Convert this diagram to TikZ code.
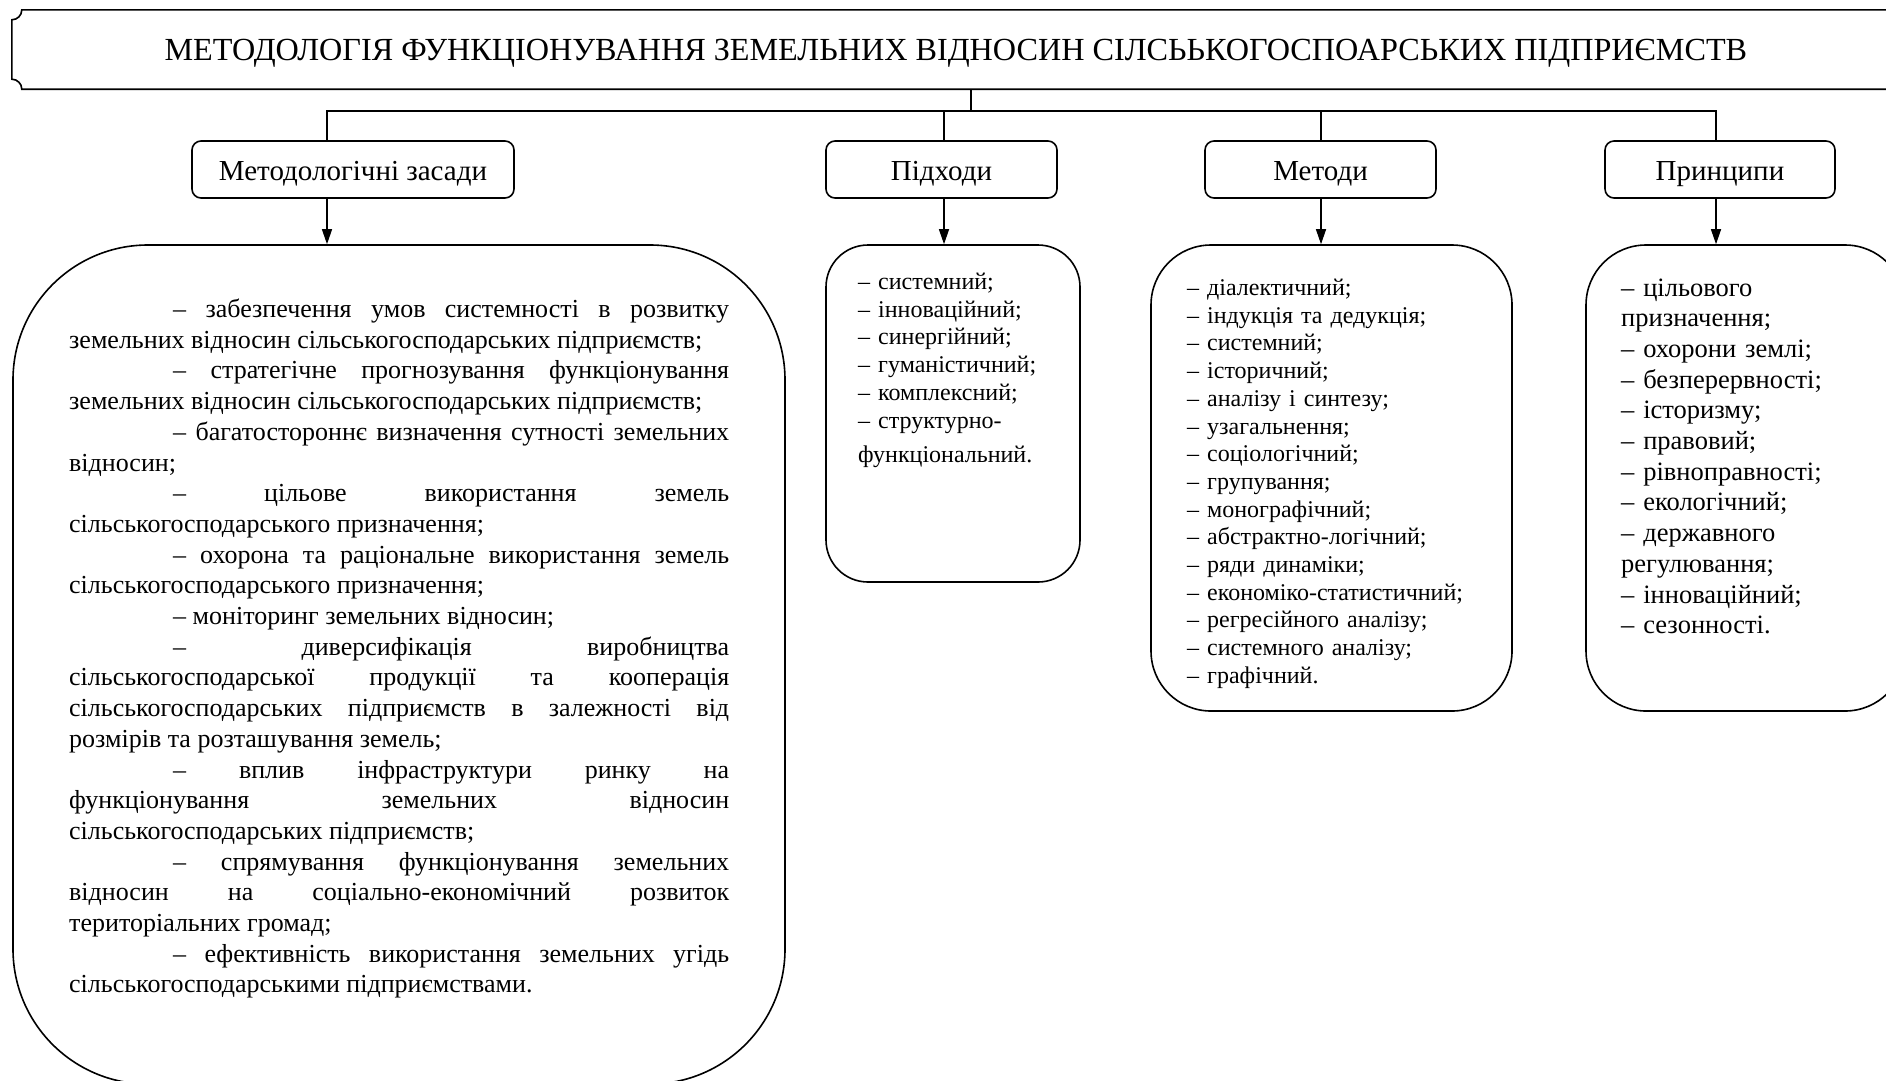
\documentclass[tikz,border=0pt]{standalone}
\usepackage{fontspec}
\setmainfont{Liberation Serif}
\usetikzlibrary{arrows.meta, positioning}

\begin{document}
\begin{tikzpicture}[x=1pt,y=1pt,
    >={Triangle[length=15pt,width=10pt]},
    head/.style={draw, line width=1.6pt, rounded corners=9pt, minimum height=57pt,
      inner sep=0pt, text height=21pt, text depth=0pt, font=\fontsize{29}{33}\selectfont},
    listbox/.style={draw, line width=1.6pt, inner sep=0pt},
    listtext/.style={anchor=base west, inner sep=0pt, text width=320pt, align=left,
      font=\fontsize{24}{27.7}\selectfont},
    link/.style={line width=1.3pt}]
  \useasboundingbox (0,0) rectangle (1886,-1080);

  % title
  \node[minimum width=1888pt, minimum height=79pt, inner sep=0pt, text depth=0pt,
    font=\fontsize{32.2}{36}\selectfont] (title) at (956,-49.5)
    {МЕТОДОЛОГІЯ ФУНКЦІОНУВАННЯ ЗЕМЕЛЬНИХ ВІДНОСИН СІЛСЬЬКОГОСПОАРСЬКИХ ПІДПРИЄМСТВ};
  \draw[line width=1.6pt] (title.north east) -- ([xshift=10pt]title.north west)
    arc[start angle=0, end angle=-90, radius=10pt]
    -- ([yshift=10pt]title.south west)
    arc[start angle=90, end angle=0, radius=10pt] -- (title.south east);

  % categories
  \node[head, minimum width=322pt] (zas) at (353,-169.5) {Методологічні засади};
  \node[head, minimum width=231pt] (pid) at (941.5,-169.5) {Підходи};
  \node[head, minimum width=231pt] (met) at (1320.5,-169.5) {Методи};
  \node[head, minimum width=230pt] (pry) at (1720,-169.5) {Принципи};

  % lists
  \node[listbox, rounded corners=135pt, minimum width=772pt, minimum height=839pt] (zasl) at (399,-664.5) {};
  \node[listbox, rounded corners=42pt, minimum width=254pt, minimum height=337pt] (pidl) at (953,-413.5) {};
  \node[listbox, rounded corners=60pt, minimum width=361pt, minimum height=466pt] (metl) at (1331.5,-478) {};
  \node[listbox, rounded corners=60pt, minimum width=319pt, minimum height=466pt] (pryl) at (1745.5,-478) {};

  % connectors
  \coordinate (stem) at (971,-111);
  \coordinate (b1) at (327,-111);
  \coordinate (b2) at (944,-111);
  \coordinate (b3) at (1321,-111);
  \coordinate (b4) at (1716,-111);
  \draw[link] (title.south -| stem) -- (stem);
  \draw[link] (b1 |- zas.north) -- (b1) -- (b4) -- (b4 |- pry.north);
  \draw[link] (b2) -- (b2 |- pid.north);
  \draw[link] (b3) -- (b3 |- met.north);
  \path[->, link]
    (zas.south -| b1) edge (b1 |- zasl.north)
    (pid.south -| b2) edge (b2 |- pidl.north)
    (met.south -| b3) edge (b3 |- metl.north)
    (pry.south -| b4) edge (b4 |- pryl.north);

  % texts
  \node[listtext, text width=660pt, align=justify, font=\fontsize{26}{30.7}\selectfont] (zast) at (69,-317.5)
    {\tolerance=10000 \hyphenpenalty=10000
    \hspace*{104pt}– забезпечення умов системності в розвитку\linebreak
    земельних відносин сільськогосподарських підприємств;\par
    \hspace*{104pt}– стратегічне прогнозування функціонування\linebreak
    земельних відносин сільськогосподарських підприємств;\par
    \hspace*{104pt}– багатостороннє визначення сутності земельних\linebreak
    відносин;\par
    \hspace*{104pt}– цільове використання земель\linebreak
    сільськогосподарського призначення;\par
    \hspace*{104pt}– охорона та раціональне використання земель\linebreak
    сільськогосподарського призначення;\par
    \hspace*{104pt}– моніторинг земельних відносин;\par
    \hspace*{104pt}– диверсифікація виробництва\linebreak
    сільськогосподарської продукції та кооперація\linebreak
    сільськогосподарських підприємств в залежності від\linebreak
    розмірів та розташування земель;\par
    \hspace*{104pt}– вплив інфраструктури ринку на\linebreak
    функціонування земельних відносин\linebreak
    сільськогосподарських підприємств;\par
    \hspace*{104pt}– спрямування функціонування земельних\linebreak
    відносин на соціально-економічний розвиток\linebreak
    територіальних громад;\par
    \hspace*{104pt}– ефективність використання земельних угідь\linebreak
    сільськогосподарськими підприємствами.\par};
  \node[listtext, text width=210pt] (pidt) at (858,-289.5)
    {– системний;\\ – інноваційний;\\ – синергійний;\\ – гуманістичний;\\
     – комплексний;\\ – структурно-\\[7pt] функціональний.};
  \node[listtext] (mett) at (1187,-295.5)
    {– діалектичний;\\ – індукція та дедукція;\\ – системний;\\ – історичний;\\
     – аналізу і синтезу;\\ – узагальнення;\\ – соціологічний;\\ – групування;\\
     – монографічний;\\ – абстрактно-логічний;\\ – ряди динаміки;\\
     – економіко-статистичний;\\ – регресійного аналізу;\\ – системного аналізу;\\
     – графічний.};
  \node[listtext, text width=260pt, font=\fontsize{26.5}{30.7}\selectfont] (pryt) at (1621,-296)
    {– цільового\\ призначення;\\ – охорони землі;\\ – безперервності;\\ – історизму;\\
     – правовий;\\ – рівноправності;\\ – екологічний;\\ – державного\\ регулювання;\\
     – інноваційний;\\ – сезонності.};
\end{tikzpicture}
\end{document}
